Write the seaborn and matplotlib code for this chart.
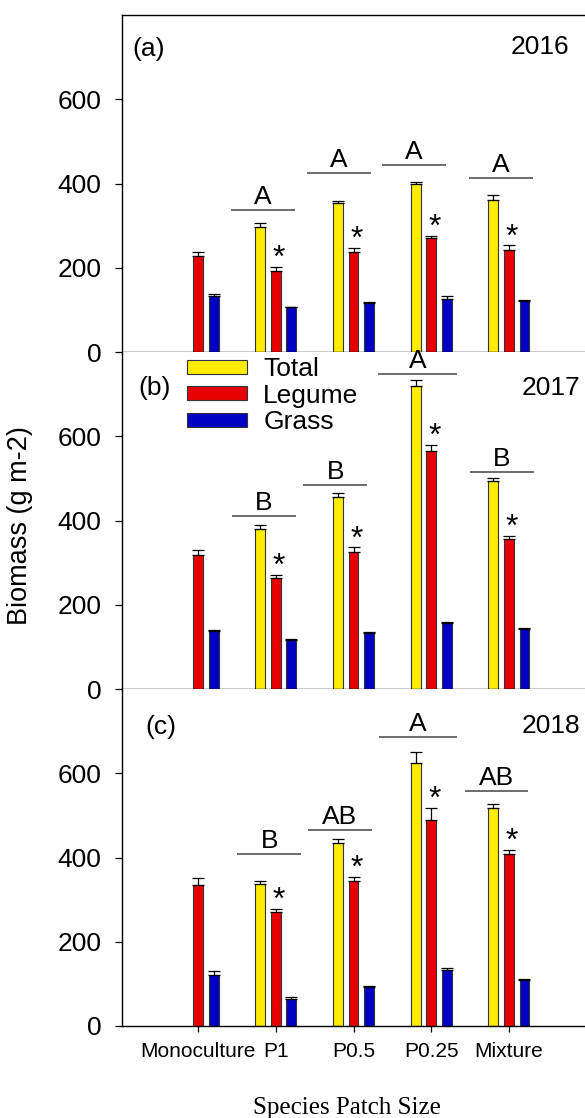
import numpy as np
import pandas as pd
import matplotlib
matplotlib.use("Agg")
import matplotlib.pyplot as plt
import seaborn as sns
from matplotlib.patches import Patch

categories = ["Monoculture", "P1", "P0.5", "P0.25", "Mixture"]
components = ["Total", "Legume", "Grass"]
years = ["2016", "2017", "2018"]
panel_tags = ["(a)", "(b)", "(c)"]

# mean biomass (g m-2); no total for monocultures
total_2016 = [np.nan, 298, 353, 398, 362]
legume_2016 = [229, 193, 238, 271, 243]
grass_2016 = [133, 107, 116, 127, 121]
total_se_2016 = [np.nan, 9, 5, 5, 10]
legume_se_2016 = [8, 8, 9, 4, 10]
grass_se_2016 = [5, 1, 3, 5, 3]

total_2017 = [np.nan, 380, 457, 720, 495]
legume_2017 = [318, 264, 325, 566, 355]
grass_2017 = [138, 117, 134, 157, 142]
total_se_2017 = [np.nan, 9, 8, 13, 5]
legume_se_2017 = [13, 7, 11, 13, 8]
grass_se_2017 = [1, 1, 1, 1, 2]

total_2018 = [np.nan, 337, 435, 625, 518]
legume_2018 = [335, 271, 344, 490, 409]
grass_2018 = [122, 65, 93, 133, 110]
total_se_2018 = [np.nan, 8, 10, 25, 8]
legume_se_2018 = [16, 6, 9, 27, 9]
grass_se_2018 = [9, 4, 1, 5, 2]

# significance letters over the total bars
letters_2016 = ["", "A", "A", "A", "A"]
letters_2017 = ["", "B", "B", "A", "B"]
letters_2018 = ["", "B", "AB", "A", "AB"]
letter_level_2016 = [np.nan, 338, 425, 444, 413]
letter_level_2017 = [np.nan, 410, 484, 747, 516]
letter_level_2018 = [np.nan, 409, 466, 686, 557]
# legume differs from monoculture
star_2016 = [False, True, True, True, True]
star_2017 = [False, True, True, True, True]
star_2018 = [False, True, True, True, True]

means = {
    "2016": (total_2016, legume_2016, grass_2016),
    "2017": (total_2017, legume_2017, grass_2017),
    "2018": (total_2018, legume_2018, grass_2018),
}
errors = {
    "2016": (total_se_2016, legume_se_2016, grass_se_2016),
    "2017": (total_se_2017, legume_se_2017, grass_se_2017),
    "2018": (total_se_2018, legume_se_2018, grass_se_2018),
}
letters = {"2016": letters_2016, "2017": letters_2017, "2018": letters_2018}
letter_levels = {"2016": letter_level_2016, "2017": letter_level_2017, "2018": letter_level_2018}
stars = {"2016": star_2016, "2017": star_2017, "2018": star_2018}

rows = []
for yr in years:
    for comp, vals, errs in zip(components, means[yr], errors[yr]):
        for cat, v, e in zip(categories, vals, errs):
            rows.append({"year": yr, "category": cat, "component": comp, "biomass": v, "se": e})
df = pd.DataFrame(rows).dropna(subset=["biomass"])

colors = {"Total": "#FFEC00", "Legume": "#E80000", "Grass": "#0000C4"}
edge = "#333333"

sns.set_style("ticks")
plt.rcParams["font.family"] = ["Liberation Sans", "DejaVu Sans"]
plt.rcParams["text.color"] = "black"
plt.rcParams["axes.labelcolor"] = "black"
plt.rcParams["xtick.color"] = "black"
plt.rcParams["ytick.color"] = "black"

fig = plt.figure(figsize=(5.85, 11.18), dpi=100)
left, width = 122 / 585, 463 / 585
bottoms = [0.6851, 0.3837, 0.0823]
height = 0.3014

# letter line centres and widths
line_layout = {
    "2016": ([0, 0.837, 1.811, 2.781, 3.897], [0, 0.82, 0.82, 0.82, 0.82]),
    "2017": ([0, 0.849, 1.764, 2.828, 3.910], [0, 0.82, 0.82, 1.02, 0.82]),
    "2018": ([0, 0.914, 1.824, 2.833, 3.842], [0, 0.82, 0.82, 1.01, 0.82]),
}
tag_x = [0.0216, 0.0346, 0.05]
tag_y = [0.878, 0.872, 0.866]
year_x = [0.9654, 0.989, 0.989]
year_y = [0.884, 0.872, 0.869]

for i, yr in enumerate(years):
    ax = fig.add_axes([left, bottoms[i], width, height])
    d = df[df["year"] == yr]
    sns.barplot(data=d, x="category", y="biomass", hue="component",
                order=categories, hue_order=components, palette=colors,
                saturation=1, width=0.6, gap=0.375, errorbar=None,
                edgecolor=edge, linewidth=0.8, legend=False, ax=ax)

    # one-sided error bars on top of each bar
    for container, comp in zip(ax.containers, components):
        sub = d[d["component"] == comp].set_index("category")
        xs, hs, es = [], [], []
        for bar in container:
            xc = bar.get_x() + bar.get_width() / 2
            cat = categories[int(round(xc))]
            xs.append(xc)
            hs.append(bar.get_height())
            es.append(sub.loc[cat, "se"])
        ax.errorbar(xs, hs, yerr=[np.zeros(len(es)), es], fmt="none",
                    ecolor="black", elinewidth=0.9, capsize=4.5, capthick=0.9, zorder=3)

    # letters and bars over groups
    centres, widths = line_layout[yr]
    for j, cat in enumerate(categories):
        if letters[yr][j]:
            lv = letter_levels[yr][j]
            ax.hlines(lv, centres[j] - widths[j] / 2, centres[j] + widths[j] / 2,
                      color="#444444", lw=1.1)
            ax.annotate(letters[yr][j], (centres[j], lv), xytext=(0, 6),
                        textcoords="offset pixels", ha="center", va="baseline",
                        fontsize=19, annotation_clip=False)
        if stars[yr][j]:
            top = means[yr][1][j] + errors[yr][1][j]
            ax.annotate("*", (j + 0.04, top), xytext=(0, 0),
                        textcoords="offset pixels", ha="center", va="baseline",
                        fontsize=23, annotation_clip=False)

    ax.set_xlim(-0.98, 4.98)
    ax.set_ylim(0, 800)
    ax.set_yticks([0, 200, 400, 600])
    ax.set_xlabel("")
    ax.set_ylabel("")
    ax.tick_params(axis="y", direction="out", length=5, width=0.9, labelsize=19, pad=10)
    if i < 2:
        ax.tick_params(axis="x", length=0, labelbottom=False)
    else:
        ax.tick_params(axis="x", direction="out", length=4.3, width=0.9, labelsize=15, pad=7)
    ax.spines["right"].set_visible(False)
    ax.spines["top"].set_visible(i == 0)
    for s in ax.spines.values():
        s.set_color("black")
        s.set_linewidth(1.0)

    ax.text(tag_x[i], tag_y[i], panel_tags[i], transform=ax.transAxes,
            fontsize=19, ha="left", va="baseline")
    ax.text(year_x[i], year_y[i], yr, transform=ax.transAxes,
            fontsize=19, ha="right", va="baseline")

    if i == 1:
        handles = [Patch(facecolor=colors[c], edgecolor=edge, linewidth=0.8) for c in components]
        ax.legend(handles, components, loc="upper left", bbox_to_anchor=(0.1397, 0.985),
                  frameon=False, fontsize=19, handlelength=2.3, handleheight=0.45,
                  handletextpad=0.6, labelspacing=0.1, borderpad=0, borderaxespad=0)

fig.text(20 / 585, 1 - 526 / 1118, "Biomass (g m-2)", rotation=90,
         ha="center", va="center", fontsize=19.5)
fig.text(347 / 585, 0.004, "Species Patch Size", ha="center", va="baseline",
         fontsize=18, family=["Liberation Serif", "DejaVu Serif"])

fig.savefig("out.png", dpi=100)
